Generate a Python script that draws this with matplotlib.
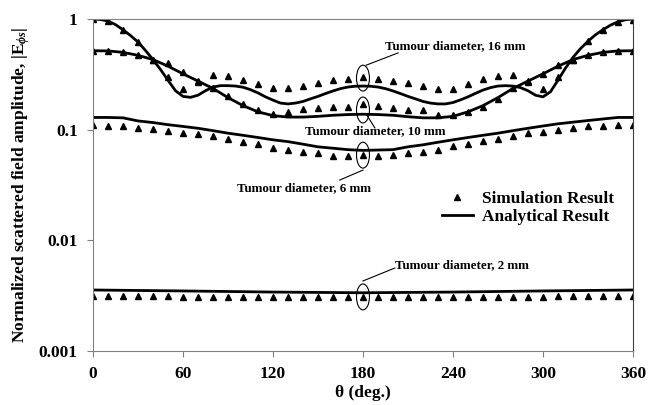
import numpy as np
import matplotlib
matplotlib.use('Agg')
import matplotlib.pyplot as plt
from matplotlib.patches import Ellipse
from matplotlib.lines import Line2D

plt.rcParams['font.family'] = ['Liberation Serif', 'DejaVu Serif']
plt.rcParams['font.weight'] = 'bold'
plt.rcParams['mathtext.fontset'] = 'custom'
plt.rcParams['mathtext.rm'] = 'Liberation Serif:bold'
plt.rcParams['mathtext.it'] = 'Liberation Serif:bold:italic'
plt.rcParams['mathtext.bf'] = 'Liberation Serif:bold'

# simulation points every 10 degrees
theta_sim = list(range(0, 361, 10))
sim_16 = [1.0, 0.96, 0.79, 0.62, 0.43, 0.30, 0.235, 0.27, 0.31, 0.305, 0.281, 0.258, 0.237,
          0.237, 0.248, 0.266, 0.281, 0.287, 0.30, 0.285, 0.277, 0.266, 0.248, 0.235, 0.235,
          0.258, 0.285, 0.305, 0.31, 0.27, 0.233, 0.30, 0.43, 0.637, 0.795, 0.945, 0.98]
sim_10 = [0.517, 0.515, 0.50, 0.47, 0.43, 0.40, 0.33, 0.275, 0.24, 0.20, 0.17, 0.15, 0.138,
          0.145, 0.155, 0.158, 0.16, 0.162, 0.17, 0.164, 0.158, 0.152, 0.15, 0.137, 0.136,
          0.145, 0.16, 0.19, 0.24, 0.277, 0.32, 0.385, 0.43, 0.47, 0.50, 0.515, 0.517]
sim_6 = [0.110, 0.109, 0.107, 0.104, 0.101, 0.098, 0.094, 0.091, 0.087, 0.082, 0.077, 0.074,
         0.069, 0.065, 0.063, 0.061, 0.058, 0.058, 0.059, 0.058, 0.059, 0.062, 0.063, 0.066,
         0.071, 0.075, 0.079, 0.083, 0.087, 0.093, 0.096, 0.099, 0.103, 0.107, 0.109, 0.110, 0.110]
sim_2 = [0.00312, 0.00312, 0.00312, 0.00312, 0.00312, 0.00312, 0.00308, 0.00308, 0.00308,
         0.00308, 0.00308, 0.00308, 0.00308, 0.00308, 0.00308, 0.00308, 0.00308, 0.00307,
         0.00305, 0.00307, 0.00308, 0.00308, 0.00308, 0.00308, 0.00308, 0.00308, 0.00308,
         0.00308, 0.00308, 0.00308, 0.00308, 0.00312, 0.00312, 0.00312, 0.00312, 0.00312, 0.00312]

# analytical curves
theta_an16 = list(range(0, 361, 5))
an_16 = [1.00, 0.99, 0.96, 0.89, 0.80, 0.71, 0.62, 0.52, 0.43, 0.35, 0.28, 0.225, 0.20, 0.196,
         0.205, 0.225, 0.243, 0.25, 0.25, 0.248, 0.242, 0.23, 0.215, 0.198, 0.185, 0.174, 0.171,
         0.174, 0.18, 0.19, 0.20, 0.212, 0.224, 0.235, 0.243, 0.247, 0.248, 0.247, 0.243, 0.235,
         0.224, 0.212, 0.20, 0.19, 0.18, 0.174, 0.171, 0.171, 0.176, 0.186, 0.198, 0.213, 0.228,
         0.24, 0.248, 0.25, 0.248, 0.24, 0.225, 0.205, 0.198, 0.22, 0.28, 0.36, 0.45, 0.54, 0.63,
         0.72, 0.80, 0.88, 0.945, 0.985, 1.00]
theta_an = list(range(0, 361, 10))
an_10 = [0.517, 0.515, 0.50, 0.47, 0.43, 0.375, 0.32, 0.275, 0.236, 0.195, 0.165, 0.145, 0.134,
         0.13, 0.13, 0.132, 0.135, 0.137, 0.138, 0.137, 0.135, 0.131, 0.128, 0.128, 0.132, 0.145,
         0.165, 0.195, 0.236, 0.275, 0.32, 0.375, 0.43, 0.47, 0.50, 0.515, 0.517]
an_6 = [0.129, 0.129, 0.128, 0.12, 0.116, 0.111, 0.107, 0.103, 0.098, 0.093, 0.089, 0.085, 0.081,
        0.078, 0.074, 0.070, 0.068, 0.066, 0.065, 0.0655, 0.066, 0.07, 0.073, 0.077, 0.081, 0.085,
        0.089, 0.093, 0.098, 0.103, 0.108, 0.113, 0.117, 0.121, 0.125, 0.129, 0.129]
theta_an2 = [0, 60, 120, 180, 240, 300, 360]
an_2 = [0.00356, 0.00349, 0.00341, 0.00336, 0.00341, 0.00349, 0.00356]

fig = plt.figure(figsize=(6.48, 4.05), dpi=100)
ax = fig.add_axes([0.1435, 0.1333, 0.8333, 0.8197])

for t, v in [(theta_an16, an_16), (theta_an, an_10), (theta_an, an_6), (theta_an2, an_2)]:
    ax.plot(t, v, '-', color='black', linewidth=2)
for v in [sim_16, sim_10, sim_6, sim_2]:
    ax.plot(theta_sim, v, '^', color='black', markersize=3.7, linestyle='none')

ax.set_yscale('log')
ax.set_xlim(0, 360)
ax.set_ylim(0.001, 1)
ax.set_xticks([0, 60, 120, 180, 240, 300, 360])
ax.set_yticks([0.001, 0.01, 0.1, 1])
ax.set_yticklabels(['0.001', '0.01', '0.1', '1'])
ax.minorticks_off()
ax.tick_params(axis='both', length=4, color='#808080', labelsize=12.5, pad=7)
for s in ax.spines.values():
    s.set_color('#808080')
ax.spines['right'].set_color('#404040')

ax.set_xlabel('θ (deg.)', fontsize=12.5, fontweight='bold', labelpad=2)
ax.set_ylabel(r'Normalized scattered field amplitude, |E$_{\phi s}$|', fontsize=12.5,
              fontweight='bold', labelpad=5)

# ellipses and labels
for yc in [0.822, 0.726, 0.590, 0.163]:
    ax.add_patch(Ellipse((0.5, yc), 0.024, 0.078, transform=ax.transAxes,
                         fill=False, edgecolor='black', linewidth=0.8))

labels = [('Tumour diameter, 16 mm', (0.541, 0.919), (0.506, 0.861), (0.565, 0.898)),
          ('Tumour diameter, 10 mm', (0.393, 0.663), (0.507, 0.711), (0.522, 0.672)),
          ('Tumour diameter, 6 mm', (0.267, 0.491), (0.5, 0.545), (0.457, 0.515)),
          ('Tumour diameter, 2 mm', (0.559, 0.259), (0.5, 0.211), (0.559, 0.25))]
for txt, tpos, p1, p2 in labels:
    ax.text(tpos[0], tpos[1], txt, transform=ax.transAxes, fontsize=9.4, fontweight='bold',
            va='center', ha='left')
    ax.plot([p1[0], p2[0]], [p1[1], p2[1]], color='black', linewidth=0.8, transform=ax.transAxes)

handles = [Line2D([], [], marker='^', color='black', linestyle='none', markersize=3.7),
           Line2D([], [], color='black', linewidth=2)]
ax.legend(handles, ['Simulation Result', 'Analytical Result'], loc='upper left',
          bbox_to_anchor=(0.624, 0.518), frameon=False, fontsize=12.4, handlelength=1.8,
          handletextpad=0.5, labelspacing=0.1, borderpad=0.2)

fig.savefig('out.png', dpi=100)
